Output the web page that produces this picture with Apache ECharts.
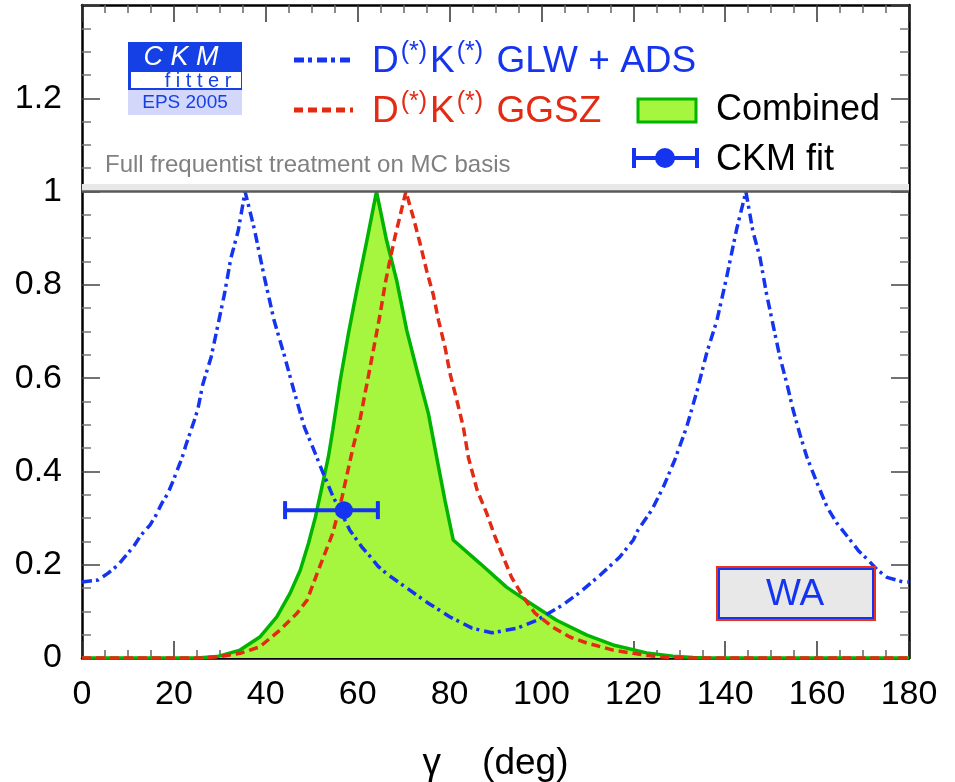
<!DOCTYPE html>
<html>
<head>
<meta charset="utf-8">
<script src="https://cdn.jsdelivr.net/npm/echarts@6.0.0/dist/echarts.min.js"></script>
<style>html,body{margin:0;padding:0;background:#fff}#c{width:955px;height:782px}</style>
</head>
<body>
<div id="c"></div>
<script>
// ---- data (gamma in deg, 1 - CL) ----
const glwAdsGamma = [0,3.5,5.7,7.8,9.6,11.3,12.8,14.8,16.1,17.4,18.7,19.8,20.9,21.8,22.6,23.5,24.4,25.2,26.3,28.1,29.5,31,32.4,34,35.5,37.5,39.7,41.8,44,46.1,48.4,50.3,52.5,54.6,56.5,58.3,60.9,62.7,64.4,66.4,70.7,75.3,80.1,84.9,89.2,94.7,99,104.5,108.4,112.8,117,120,121,124,126.5,129,131.6,133.9,136,138.2,140.3,142.5,144.5,146,147.6,149,150.5,151.9,153.4,154.8,156.3,157.8,160,162.2,164.3,167.2,169,171.1,173,175.2,178.7,180];
const glwAdsCL    = [0.163,0.167,0.182,0.199,0.22,0.24,0.263,0.285,0.306,0.332,0.353,0.379,0.407,0.43,0.456,0.482,0.508,0.533,0.587,0.645,0.71,0.78,0.857,0.916,1.0,0.92,0.816,0.724,0.65,0.574,0.495,0.45,0.396,0.347,0.31,0.274,0.238,0.218,0.197,0.18,0.15,0.118,0.088,0.064,0.054,0.064,0.081,0.113,0.141,0.178,0.216,0.253,0.274,0.317,0.366,0.424,0.495,0.574,0.655,0.724,0.816,0.92,1.0,0.916,0.857,0.78,0.71,0.645,0.589,0.531,0.478,0.43,0.375,0.323,0.289,0.253,0.23,0.21,0.19,0.173,0.163,0.163];

const ggszGamma = [0,26,30,34.4,38.7,43.1,46.8,49,51.2,52.9,54.6,56.6,57.9,59,60.5,61.6,62.7,63.8,64.9,66,67,68.1,70.5,72.1,73.6,75,76.5,77.6,79,80.1,81.6,83,84.1,86,88.1,89.9,91.7,93.5,96,98.6,102.5,106.2,109.9,115.6,120,124.3,128,132,180];
const ggszCL    = [0,0,0.003,0.01,0.024,0.06,0.096,0.124,0.182,0.225,0.268,0.345,0.403,0.452,0.51,0.567,0.623,0.68,0.738,0.803,0.852,0.902,1.0,0.945,0.888,0.831,0.777,0.724,0.667,0.61,0.552,0.495,0.43,0.36,0.31,0.26,0.216,0.173,0.131,0.096,0.066,0.045,0.032,0.017,0.01,0.004,0.001,0,0];

const combGamma = [0,25,29.4,34.4,38.7,42.4,45.3,47.5,49.3,50.8,52.2,53.6,54.6,56.2,58,59.8,62,64.1,66.3,68.5,70.7,72.9,75.4,77.4,79,80.8,86.6,92.4,97.5,103.3,109.9,115.6,122.9,128.6,133,136,180];
const combCL    = [0,0,0.003,0.017,0.045,0.088,0.139,0.188,0.246,0.302,0.366,0.43,0.49,0.595,0.696,0.788,0.895,1.0,0.895,0.809,0.702,0.617,0.524,0.42,0.338,0.253,0.203,0.152,0.118,0.081,0.049,0.028,0.011,0.004,0.001,0,0];

const ckmFit = { central: 57.0, cl: 0.317, low: 44.2, high: 64.4 };

const xTicks = { min: 0, max: 180, step: 20 };
const yTicks = { min: 0, max: 1.4, step: 0.2 };

const seriesNames = ['D(*)K(*) GLW + ADS', 'D(*)K(*) GGSZ', 'Combined', 'CKM fit'];

// ---- styles ----
const BLUE = '#1434f0', RED = '#e32a12', GREEN = '#00b400', FILL = '#a6f53e';
const FONT = '"Liberation Sans", Arial, Helvetica, sans-serif';

const pairs = (xs, ys) => xs.map((x, i) => [x, ys[i]]);

const chart = echarts.init(document.getElementById('c'), null, { renderer: 'canvas' });

const baseX = {
  type: 'value', min: xTicks.min, max: xTicks.max, interval: xTicks.step,
  axisLine: { show: true, onZero: false, lineStyle: { color: '#000', width: 2.5 } },
  axisTick: { show: true, inside: true, length: 17, lineStyle: { color: '#333', width: 1.5 } },
  minorTick: { show: true, splitNumber: 4, length: 8, lineStyle: { color: '#666', width: 1.5 } },
  splitLine: { show: false }, minorSplitLine: { show: false }
};
const baseY = {
  type: 'value', min: yTicks.min, max: yTicks.max, interval: yTicks.step,
  axisLine: { show: true, onZero: false, lineStyle: { color: '#000', width: 2.5 } },
  axisTick: { show: true, inside: true, length: 18, lineStyle: { color: '#444', width: 1.5 } },
  minorTick: { show: true, splitNumber: 4, length: 9, lineStyle: { color: '#777', width: 1.5 } },
  splitLine: { show: false }, minorSplitLine: { show: false }
};

const legendText = (label, color) => ({
  text: label.replace('D(*)K(*)', '{m|D}{s|(*)}{m|K}{s|(*)}{m|').concat('}'),
  rich: {
    m: { fontSize: 37, fontFamily: FONT, fill: color, lineHeight: 40, verticalAlign: 'bottom' },
    s: { fontSize: 25, fontFamily: FONT, fill: color, lineHeight: 40, verticalAlign: 'top', padding: [0, 3, 0, 2] }
  }
});

chart.setOption({
  animation: false,
  backgroundColor: '#fff',
  grid: { left: 82, right: 46, top: 5, bottom: 124, containLabel: false, outerBoundsMode: 'none' },
  xAxis: [
    Object.assign({}, baseX, {
      position: 'bottom',
      name: 'γ    (deg)', nameLocation: 'middle', nameGap: 87,
      nameTextStyle: { fontSize: 37, fontFamily: FONT, color: '#000' },
      axisLabel: { fontSize: 34, fontFamily: FONT, color: '#000', margin: 20 }
    }),
    Object.assign({}, baseX, { position: 'top', axisLabel: { show: false } })
  ],
  yAxis: [
    Object.assign({}, baseY, {
      position: 'left',
      axisLabel: { fontSize: 34, fontFamily: FONT, color: '#000', margin: 20, showMaxLabel: false }
    }),
    Object.assign({}, baseY, { position: 'right', axisLabel: { show: false } })
  ],
  series: [
    {
      name: seriesNames[2], type: 'line', data: pairs(combGamma, combCL),
      showSymbol: false, smooth: false, z: 2,
      lineStyle: { color: GREEN, width: 3.5 },
      areaStyle: { color: FILL, opacity: 1 },
      markArea: { silent: true, itemStyle: { color: '#e8e8e8' }, data: [[{ yAxis: 1 }, { yAxis: 1.016 }]] },
      markLine: { silent: true, symbol: 'none', label: { show: false },
        lineStyle: { color: '#5a5a5a', width: 2.5, type: 'solid' }, data: [{ yAxis: 1 }] }
    },
    {
      name: seriesNames[1], type: 'line', data: pairs(ggszGamma, ggszCL),
      showSymbol: false, z: 3,
      lineStyle: { color: RED, width: 3.5, type: [9, 5] }
    },
    {
      name: seriesNames[0], type: 'line', data: pairs(glwAdsGamma, glwAdsCL),
      showSymbol: false, z: 4,
      lineStyle: { color: BLUE, width: 3.5, type: [10, 4, 3, 5] }
    },
    {
      name: seriesNames[3], type: 'custom', z: 5,
      encode: { x: [0, 2, 3], y: 1 },
      data: [[ckmFit.central, ckmFit.cl, ckmFit.low, ckmFit.high]],
      renderItem: function (params, api) {
        const c = api.coord([api.value(0), api.value(1)]);
        const lo = api.coord([api.value(2), api.value(1)]);
        const hi = api.coord([api.value(3), api.value(1)]);
        const st = { stroke: BLUE, lineWidth: 4 };
        return { type: 'group', children: [
          { type: 'line', shape: { x1: lo[0], y1: lo[1], x2: hi[0], y2: hi[1] }, style: st },
          { type: 'line', shape: { x1: lo[0], y1: lo[1] - 9, x2: lo[0], y2: lo[1] + 9 }, style: st },
          { type: 'line', shape: { x1: hi[0], y1: hi[1] - 9, x2: hi[0], y2: hi[1] + 9 }, style: st },
          { type: 'circle', shape: { cx: c[0], cy: c[1], r: 9 }, style: { fill: BLUE } }
        ] };
      }
    }
  ],
  graphic: [
    // CKMfitter logo
    { type: 'rect', shape: { x: 128, y: 42, width: 114, height: 48 }, style: { fill: '#1540e6' }, z: 10 },
    { type: 'rect', shape: { x: 131, y: 72, width: 110, height: 16 }, style: { fill: '#fff' }, z: 11 },
    { type: 'rect', shape: { x: 128, y: 90, width: 114, height: 25 }, style: { fill: '#d3d7fa' }, z: 10 },
    { type: 'text', x: 181, y: 57, z: 12, style: { text: 'C K M', fontSize: 27, fontStyle: 'italic', fontFamily: FONT, fill: '#fff', align: 'center', verticalAlign: 'middle' } },
    { type: 'text', x: 198, y: 81, z: 12, style: { text: 'f i t t e r', fontSize: 20, fontFamily: FONT, fill: '#1540e6', align: 'center', verticalAlign: 'middle' } },
    { type: 'text', x: 185, y: 103, z: 12, style: { text: 'EPS 2005', fontSize: 19, fontFamily: FONT, fill: '#1540e6', align: 'center', verticalAlign: 'middle' } },
    // gray note
    { type: 'text', x: 105, y: 165, z: 12, style: { text: 'Full frequentist treatment on MC basis', fontSize: 24, fontFamily: FONT, fill: '#808080', verticalAlign: 'middle' } },
    // legend samples
    { type: 'line', z: 12, shape: { x1: 294, y1: 60, x2: 353, y2: 60 }, style: { stroke: BLUE, lineWidth: 5, lineDash: [10, 4, 4, 5] } },
    { type: 'line', z: 12, shape: { x1: 294, y1: 110, x2: 353, y2: 110 }, style: { stroke: RED, lineWidth: 5, lineDash: [9, 5] } },
    { type: 'rect', z: 12, shape: { x: 638, y: 99, width: 58, height: 23 }, style: { fill: FILL, stroke: GREEN, lineWidth: 3 } },
    { type: 'line', z: 12, shape: { x1: 634, y1: 158, x2: 697, y2: 158 }, style: { stroke: BLUE, lineWidth: 4 } },
    { type: 'line', z: 12, shape: { x1: 634, y1: 148, x2: 634, y2: 168 }, style: { stroke: BLUE, lineWidth: 4 } },
    { type: 'line', z: 12, shape: { x1: 697, y1: 148, x2: 697, y2: 168 }, style: { stroke: BLUE, lineWidth: 4 } },
    { type: 'circle', z: 12, shape: { cx: 665, cy: 158, r: 10 }, style: { fill: BLUE } },
    // legend texts
    { type: 'text', x: 372, y: 60, z: 12, style: Object.assign(legendText(seriesNames[0], BLUE), { verticalAlign: 'middle' }) },
    { type: 'text', x: 372, y: 110, z: 12, style: Object.assign(legendText(seriesNames[1], RED), { verticalAlign: 'middle' }) },
    { type: 'text', x: 716, y: 110, z: 12, style: { text: seriesNames[2], fontSize: 36, fontFamily: FONT, fill: '#000', verticalAlign: 'middle' } },
    { type: 'text', x: 716, y: 160, z: 12, style: { text: seriesNames[3], fontSize: 36, fontFamily: FONT, fill: '#000', verticalAlign: 'middle' } },
    // WA box
    { type: 'rect', z: 12, shape: { x: 717, y: 567, width: 158, height: 53 }, style: { fill: '#e8e8e8', stroke: '#e8321e', lineWidth: 2 } },
    { type: 'rect', z: 13, shape: { x: 719, y: 569, width: 154, height: 49 }, style: { fill: null, stroke: BLUE, lineWidth: 2 } },
    { type: 'text', x: 795, y: 595, z: 14, style: { text: 'WA', fontSize: 37, fontFamily: FONT, fill: BLUE, align: 'center', verticalAlign: 'middle' } }
  ]
});
</script>
</body>
</html>
